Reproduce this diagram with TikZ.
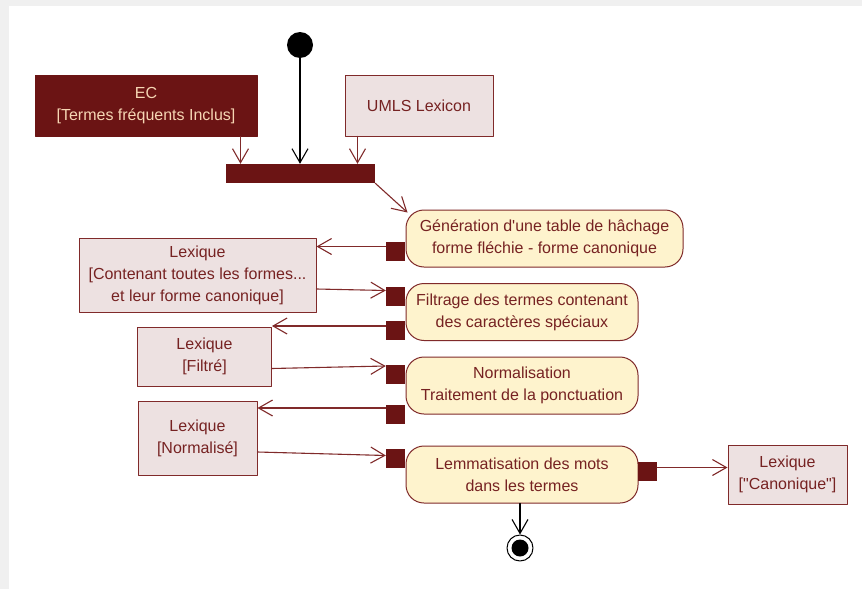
\documentclass[tikz,border=0pt]{standalone}
\usepackage{fontspec}
\setmainfont[Ligatures=TeXOff]{Liberation Sans}
\usetikzlibrary{arrows.meta, positioning, shapes, calc}
\definecolor{UMLdark}{RGB}{107, 20, 20}
\definecolor{UMLline}{RGB}{128, 42, 42}
\definecolor{UMLtext}{RGB}{118, 34, 34}
\definecolor{UMLpink}{RGB}{237, 225, 225}
\definecolor{UMLcream}{RGB}{254, 243, 205}
\definecolor{UMLpeach}{RGB}{246, 214, 180}
\tikzset{every node/.style={font=\fontsize{16}{22}\selectfont, text=UMLtext}, every path/.style={line cap=round, line join=round}, >={Straight Barb[length=14pt, width=16pt]}}
\tikzset{
    objbox/.style={draw=UMLline, fill=UMLpink, line width=1pt, align=center, inner sep=0pt},
    actbox/.style={draw=UMLline, fill=UMLcream, line width=1pt, rounded corners=18pt, align=center, inner sep=0pt, minimum width=232pt, minimum height=57pt},
    pinbox/.style={fill=UMLdark, minimum size=19pt, inner sep=0pt},
    flow/.style={->, draw=UMLline, line width=1.1pt},
    ctrl/.style={->, draw=black, line width=1.1pt}
}

\begin{document}
\begin{tikzpicture}[x=1pt, y=-1pt]
    % frame
    \fill [black!6] (0,0) rectangle (862,589);
    \fill [white] (9,6) rectangle (862,589);
    \useasboundingbox (0,0) rectangle (862,589);

    % start, input objects and fork
    \node [circle, fill=black, minimum size=26pt, inner sep=0pt] (init) at (300,45) {};
    \node [objbox, fill=UMLdark, draw=UMLdark, text=UMLpeach, minimum width=222pt, minimum height=61pt] (ec) at (146,105.5) {EC\\{[}Termes fréquents Inclus{]}};
    \node [objbox, minimum width=148pt, minimum height=61pt] (umls) at (419,105.5) {UMLS Lexicon};
    \node [fill=UMLdark, minimum width=149pt, minimum height=19pt, inner sep=0pt] (fork) at (300.5,173.5) {};

    % actions
    \node [actbox, minimum width=277pt] (gen) at (544.5,238.5) {Génération d'une table de hâchage\\forme fléchie - forme canonique};
    \node [actbox] (filt) at (522,312) {Filtrage des termes contenant\\des caractères spéciaux};
    \node [actbox] (norm) at (522,385.5) {Normalisation\\Traitement de la ponctuation};
    \node [actbox] (lemm) at (522,474.5) {Lemmatisation des mots\\dans les termes};

    % pins
    \node [pinbox] (pinG) at (395.5,251.5) {};
    \node [pinbox] (pinF1) at (395.5,296.5) {};
    \node [pinbox] (pinF2) at (395.5,330) {};
    \node [pinbox] (pinN1) at (395.5,374) {};
    \node [pinbox] (pinN2) at (395.5,414) {};
    \node [pinbox] (pinL1) at (395.5,458.5) {};
    \node [pinbox] (pinL2) at (647.5,471.5) {};

    % lexicon objects
    \node [objbox, minimum width=237pt, minimum height=74pt] (lexAll) at (197.5,275) {Lexique\\{[}Contenant toutes les formes...\\et leur forme canonique{]}};
    \node [objbox, minimum width=134pt, minimum height=59pt] (lexF) at (204.5,356.5) {Lexique\\{[}Filtré{]}};
    \node [objbox, minimum width=119pt, minimum height=74pt] (lexN) at (197.5,438) {Lexique\\{[}Normalisé{]}};
    \node [objbox, minimum width=119pt, minimum height=59pt] (lexC) at (787.5,474.5) {Lexique\\{[}"Canonique"{]}};

    % end
    \node [circle, draw=black, fill=white, line width=1pt, minimum size=26pt, inner sep=0pt] (final) at (520,548) {};
    \fill (final) circle (8.5);

    % connectors
    \draw [ctrl] (init) -- (init |- fork.north);
    \draw [flow] ([xshift=-17pt]ec.south east) -- ([xshift=-17pt]ec.south east |- fork.north);
    \draw [flow] ([xshift=13pt]umls.south west) -- ([xshift=13pt]umls.south west |- fork.north);
    \draw [flow] (fork.south east) -- ([xshift=2pt, yshift=-3pt]gen.north west);
    \draw [flow] ([yshift=5pt]pinG.west) -- ([yshift=5pt]pinG.west -| lexAll.east);
    \draw [flow] ([yshift=-14pt]lexAll.east) -- ([yshift=6pt]pinF1.west);
    \draw [flow] ([yshift=4pt]pinF2.west) -- ([yshift=4pt]pinF2.west -| lexF.east);
    \draw [flow] ([yshift=-12pt]lexF.east) -- ([yshift=8pt]pinN1.west);
    \draw [flow] ([yshift=6pt]pinN2.west) -- ([yshift=6pt]pinN2.west -| lexN.east);
    \draw [flow] ([yshift=-14pt]lexN.east) -- ([yshift=3pt]pinL1.west);
    \draw [flow] ([yshift=4pt]pinL2.east) -- ([yshift=4pt]pinL2.east -| lexC.west);
    \draw [ctrl] (lemm.south -| final) -- (final.north);
\end{tikzpicture}
\end{document}
